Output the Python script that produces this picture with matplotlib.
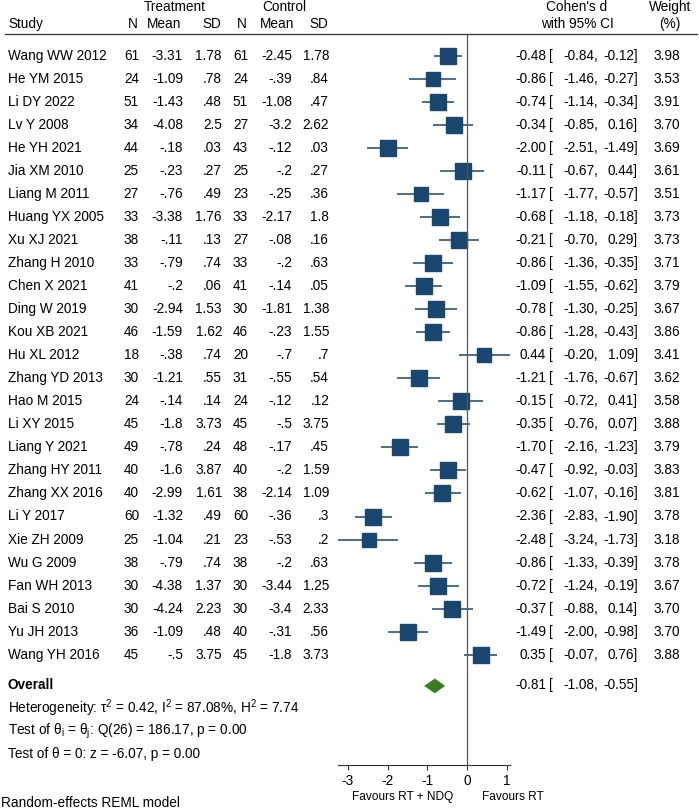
import numpy as np
import matplotlib
matplotlib.use('Agg')
import matplotlib.pyplot as plt
from matplotlib.transforms import blended_transform_factory
from matplotlib.lines import Line2D

plt.rcParams['font.family'] = ['Liberation Sans', 'DejaVu Sans']
plt.rcParams['mathtext.fontset'] = 'custom'
plt.rcParams['mathtext.rm'] = 'Liberation Sans'

# study data
studies = ['Wang WW 2012', 'He YM 2015', 'Li DY 2022', 'Lv Y 2008', 'He YH 2021', 'Jia XM 2010',
           'Liang M 2011', 'Huang YX 2005', 'Xu XJ 2021', 'Zhang H 2010', 'Chen X 2021', 'Ding W 2019',
           'Kou XB 2021', 'Hu XL 2012', 'Zhang YD 2013', 'Hao M 2015', 'Li XY 2015', 'Liang Y 2021',
           'Zhang HY 2011', 'Zhang XX 2016', 'Li Y 2017', 'Xie ZH 2009', 'Wu G 2009', 'Fan WH 2013',
           'Bai S 2010', 'Yu JH 2013', 'Wang YH 2016']
n_trt = ['61', '24', '51', '34', '44', '25', '27', '33', '38', '33', '41', '30', '46', '18', '30', '24',
         '45', '49', '40', '40', '60', '25', '38', '30', '30', '36', '45']
mean_trt = ['-3.31', '-1.09', '-1.43', '-4.08', '-.18', '-.23', '-.76', '-3.38', '-.11', '-.79', '-.2',
            '-2.94', '-1.59', '-.38', '-1.21', '-.14', '-1.8', '-.78', '-1.6', '-2.99', '-1.32', '-1.04',
            '-.79', '-4.38', '-4.24', '-1.09', '-.5']
sd_trt = ['1.78', '.78', '.48', '2.5', '.03', '.27', '.49', '1.76', '.13', '.74', '.06', '1.53', '1.62',
          '.74', '.55', '.14', '3.73', '.24', '3.87', '1.61', '.49', '.21', '.74', '1.37', '2.23', '.48',
          '3.75']
n_ctl = ['61', '24', '51', '27', '43', '25', '23', '33', '27', '33', '41', '30', '46', '20', '31', '24',
         '45', '48', '40', '38', '60', '23', '38', '30', '30', '40', '45']
mean_ctl = ['-2.45', '-.39', '-1.08', '-3.2', '-.12', '-.2', '-.25', '-2.17', '-.08', '-.2', '-.14',
            '-1.81', '-.23', '-.7', '-.55', '-.12', '-.5', '-.17', '-.2', '-2.14', '-.36', '-.53', '-.2',
            '-3.44', '-3.4', '-.31', '-1.8']
sd_ctl = ['1.78', '.84', '.47', '2.62', '.03', '.27', '.36', '1.8', '.16', '.63', '.05', '1.38', '1.55',
          '.7', '.54', '.12', '3.75', '.45', '1.59', '1.09', '.3', '.2', '.63', '1.25', '2.33', '.56',
          '3.73']
d = np.array([-0.48, -0.86, -0.74, -0.34, -2.00, -0.11, -1.17, -0.68, -0.21, -0.86, -1.09, -0.78, -0.86,
              0.44, -1.21, -0.15, -0.35, -1.70, -0.47, -0.62, -2.36, -2.48, -0.86, -0.72, -0.37, -1.49,
              0.35])
lo = np.array([-0.84, -1.46, -1.14, -0.85, -2.51, -0.67, -1.77, -1.18, -0.70, -1.36, -1.55, -1.30, -1.28,
               -0.20, -1.76, -0.72, -0.76, -2.16, -0.92, -1.07, -2.83, -3.24, -1.33, -1.24, -0.88, -2.00,
               -0.07])
hi = np.array([-0.12, -0.27, -0.34, 0.16, -1.49, 0.44, -0.57, -0.18, 0.29, -0.35, -0.62, -0.25, -0.43,
               1.09, -0.67, 0.41, 0.07, -1.23, -0.03, -0.16, -1.90, -1.73, -0.39, -0.19, 0.14, -0.98,
               0.76])
weight = np.array([3.98, 3.53, 3.91, 3.70, 3.69, 3.61, 3.51, 3.73, 3.73, 3.71, 3.79, 3.67, 3.86, 3.41,
                   3.62, 3.58, 3.88, 3.79, 3.83, 3.81, 3.78, 3.18, 3.78, 3.67, 3.70, 3.70, 3.88])
overall = [-0.81, -1.08, -0.55]
xticks = [-3, -2, -1, 0, 1]

navy = '#1a476f'
green = '#3c7a22'
fs = 9.8
W, H = 699, 809

fig = plt.figure(figsize=(W/100, H/100), dpi=100)
scale = 39.7  # px per unit of d
x0 = 467
xmin, xmax = lo.min(), hi.max()
top_px, bot_px = 34, 765
row0, step = 55.5, 23.05
ax = fig.add_axes([(x0 + xmin*scale)/W, 1 - bot_px/H, (xmax - xmin)*scale/W, (bot_px - top_px)/H])
ax.set_xlim(xmin, xmax)
ax.set_ylim((bot_px - row0)/step, (top_px - row0)/step)

rows = np.arange(len(studies))
ax.hlines(rows, lo, hi, color=navy, lw=1.1)
for r, x, w in zip(rows, d, weight):
    ax.plot(x, r, 's', color=navy, ms=11.2*np.sqrt(w/3.81), mec=navy)

r_ov = 27.35
ax.fill([overall[1], overall[0], overall[2], overall[0]], [r_ov, r_ov - 0.32, r_ov, r_ov + 0.32],
        color=green, lw=0)
ax.axvline(0, color='#555555', lw=0.9)

for s in ['top', 'left', 'right']:
    ax.spines[s].set_visible(False)
ax.spines['bottom'].set_color('#333333')
ax.spines['bottom'].set_linewidth(0.8)
ax.set_yticks([])
ax.set_xticks(xticks)
ax.set_xticklabels([str(t) for t in xticks])
ax.tick_params(axis='x', direction='out', length=3.5, width=0.8, color='#333333', labelsize=fs, pad=3)

tr = blended_transform_factory(fig.transFigure, ax.transData)
def px(x):
    return x/W

# header
hdr1, hdr2 = (7 - row0)/step, (24 - row0)/step
ax.text(px(174.5), hdr1, 'Treatment', transform=tr, ha='center', va='center', fontsize=fs)
ax.text(px(284), hdr1, 'Control', transform=tr, ha='center', va='center', fontsize=fs)
ax.text(px(8), hdr2, 'Study', transform=tr, ha='left', va='center', fontsize=fs)
for xr, lab in [(138, 'N'), (181, 'Mean'), (221, 'SD'), (247, 'N'), (294, 'Mean'), (328, 'SD')]:
    ax.text(px(xr), hdr2, lab, transform=tr, ha='right', va='center', fontsize=fs)
ax.text(px(577), hdr1, "Cohen's d", transform=tr, ha='center', va='center', fontsize=fs)
ax.text(px(577), hdr2, 'with 95% CI', transform=tr, ha='center', va='center', fontsize=fs)
ax.text(px(670), hdr1, 'Weight', transform=tr, ha='center', va='center', fontsize=fs)
ax.text(px(670), hdr2, '(%)', transform=tr, ha='center', va='center', fontsize=fs)
fig.add_artist(Line2D([px(5), px(697)], [1 - top_px/H]*2, color='#333333', lw=0.9))

# table rows
cols = [(n_trt, 139), (mean_trt, 183), (sd_trt, 222), (n_ctl, 248), (mean_ctl, 292), (sd_ctl, 329)]
for i in rows:
    ax.text(px(8), i, studies[i], transform=tr, ha='left', va='center', fontsize=fs)
    for vals, xr in cols:
        ax.text(px(xr), i, vals[i], transform=tr, ha='right', va='center', fontsize=fs)
    ax.text(px(546), i, '%.2f' % d[i], transform=tr, ha='right', va='center', fontsize=fs)
    ax.text(px(549), i, '[', transform=tr, ha='left', va='center', fontsize=fs)
    ax.text(px(598), i, '%.2f,' % lo[i], transform=tr, ha='right', va='center', fontsize=fs)
    ax.text(px(638), i, '%.2f]' % hi[i], transform=tr, ha='right', va='center', fontsize=fs)
    ax.text(px(680), i, '%.2f' % weight[i], transform=tr, ha='right', va='center', fontsize=fs)

r_txt = (685 - row0)/step
ax.text(px(8), r_txt, 'Overall', transform=tr, ha='left', va='center', fontsize=fs, fontweight='bold')
ax.text(px(546), r_txt, '%.2f' % overall[0], transform=tr, ha='right', va='center', fontsize=fs)
ax.text(px(549), r_txt, '[', transform=tr, ha='left', va='center', fontsize=fs)
ax.text(px(598), r_txt, '%.2f,' % overall[1], transform=tr, ha='right', va='center', fontsize=fs)
ax.text(px(638), r_txt, '%.2f]' % overall[2], transform=tr, ha='right', va='center', fontsize=fs)

stats = [r'Heterogeneity: τ$^\mathregular{2}$ = 0.42, I$^\mathregular{2}$ = 87.08%, H$^\mathregular{2}$ = 7.74',
         r'Test of θ$_\mathregular{i}$ = θ$_\mathregular{j}$: Q(26) = 186.17, p = 0.00',
         'Test of θ = 0: z = -6.07, p = 0.00']
for k, s in enumerate(stats):
    ax.text(px(8), r_txt + 1 + k, s, transform=tr, ha='left', va='center', fontsize=fs)

# favours labels
trx = blended_transform_factory(ax.transData, fig.transFigure)
ax.text(xmin/2, 1 - 797/H, 'Favours RT + NDQ', transform=trx, ha='center', va='center', fontsize=8.6)
ax.text((482 - x0)/scale, 1 - 797/H, 'Favours RT', transform=trx, ha='left', va='center', fontsize=8.6)

fig.text(px(1), 1 - 803/H, 'Random-effects REML model', ha='left', va='center', fontsize=fs)

plt.savefig('out.png', dpi=100)
